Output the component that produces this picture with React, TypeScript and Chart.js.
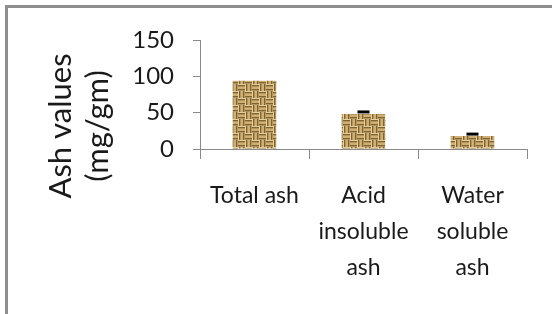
import React, { useEffect, useRef } from "react";
import { Chart, registerables } from "chart.js";

Chart.register(...registerables);

const categories: string[][] = [["Total ash"], ["Acid", "insoluble", "ash"], ["Water", "soluble", "ash"]];
const ashValues: number[] = [94, 48, 18];
const ashErrors: number[] = [0, 3, 2.5];
const yTitleLines: string[] = ["Ash values", "(mg/gm)"];
const yMin = 0;
const yMax = 150;
const yStep = 50;

const FONT = "Lato, 'Open Sans', sans-serif";

function makePattern(): CanvasPattern | string {
  const c = document.createElement("canvas");
  c.width = 14;
  c.height = 14;
  const g = c.getContext("2d");
  if (!g) return "#d4b877";
  g.fillStyle = "#e6cf98";
  g.fillRect(0, 0, 14, 14);
  g.fillStyle = "rgba(105,78,32,0.85)";
  // TL horizontal
  g.fillRect(0, 1, 7, 1.5);
  g.fillRect(0, 5, 7, 1.5);
  // TR vertical
  g.fillRect(8, 0, 1.5, 7);
  g.fillRect(12, 0, 1.5, 7);
  // BL vertical
  g.fillRect(1, 7, 1.5, 7);
  g.fillRect(5, 7, 1.5, 7);
  // BR horizontal
  g.fillRect(7, 8, 7, 1.5);
  g.fillRect(7, 12, 7, 1.5);
  g.fillStyle = "rgba(190,150,80,0.55)";
  g.fillRect(0, 2.5, 7, 2.5);
  g.fillRect(9.5, 0, 2.5, 7);
  g.fillRect(2.5, 7, 2.5, 7);
  g.fillRect(7, 9.5, 7, 2.5);
  const p = g.createPattern(c, "repeat");
  return p || "#d4b877";
}

const errorCapPlugin = {
  id: "errorCaps",
  afterDatasetsDraw(chart: any) {
    const meta = chart.getDatasetMeta(0);
    const y = chart.scales.y;
    const ctx = chart.ctx;
    ctx.save();
    ctx.fillStyle = "#000";
    meta.data.forEach((bar: any, i: number) => {
      const e = ashErrors[i];
      if (!e) return;
      const py = y.getPixelForValue(ashValues[i] + e);
      ctx.fillRect(bar.x - 6, py - 1.5, 12, 3);
    });
    ctx.restore();
  },
};

const yTitlePlugin = {
  id: "yTitle",
  afterDraw(chart: any) {
    const ctx = chart.ctx;
    const area = chart.chartArea;
    ctx.save();
    ctx.fillStyle = "#1a1a1a";
    ctx.font = `31px ${FONT}`;
    ctx.textAlign = "center";
    ctx.textBaseline = "middle";
    const cy = area.bottom - 23;
    const xs = [61, 98];
    yTitleLines.forEach((t, i) => {
      ctx.save();
      ctx.translate(xs[i], cy);
      ctx.rotate(-Math.PI / 2);
      ctx.fillText(t, 0, 0);
      ctx.restore();
    });
    ctx.restore();
  },
};

export default function App() {
  const ref = useRef<HTMLCanvasElement | null>(null);
  useEffect(() => {
    if (!ref.current) return;
    const chart = new Chart(ref.current, {
      type: "bar",
      data: {
        labels: categories,
        datasets: [
          {
            data: ashValues,
            backgroundColor: makePattern() as any,
            borderWidth: 0,
            barPercentage: 0.8,
            categoryPercentage: 0.5,
          },
        ],
      },
      options: {
        responsive: false,
        animation: false,
        maintainAspectRatio: false,
        layout: { padding: { top: 40, right: 25, left: 0, bottom: 0 } },
        plugins: { legend: { display: false }, tooltip: { enabled: false }, title: { display: false } },
        scales: {
          x: {
            afterFit: (s: any) => {
              s.height = 165;
            },
            grid: { drawOnChartArea: false, drawTicks: true, tickLength: 10, color: "#8a8a8a", offset: true },
            border: { display: true, color: "#8a8a8a", width: 1 },
            ticks: {
              color: "#1a1a1a",
              font: { family: FONT, size: 23, lineHeight: 36 / 23 },
              padding: 19,
              maxRotation: 0,
              autoSkip: false,
            },
          },
          y: {
            min: yMin,
            max: yMax,
            afterFit: (s: any) => {
              s.width = 200;
            },
            grid: { drawOnChartArea: false, drawTicks: true, tickLength: 7, color: "#8a8a8a" },
            border: { display: true, color: "#8a8a8a", width: 1 },
            ticks: {
              stepSize: yStep,
              color: "#1a1a1a",
              font: { family: FONT, size: 24 },
              padding: 19,
            },
          },
        },
      },
      plugins: [errorCapPlugin, yTitlePlugin],
    });
    return () => chart.destroy();
  }, []);

  return (
    <div style={{ position: "absolute", left: 0, top: 0, width: 552, height: 314, background: "#fff" }}>
      <div
        style={{
          position: "absolute",
          left: 5,
          top: 5,
          width: 560,
          height: 320,
          borderTop: "3px solid #8e8e8e",
          borderLeft: "3px solid #8e8e8e",
          boxSizing: "border-box",
        }}
      />
      <canvas ref={ref} width={552} height={314} style={{ position: "absolute", left: 0, top: 0 }} />
    </div>
  );
}
